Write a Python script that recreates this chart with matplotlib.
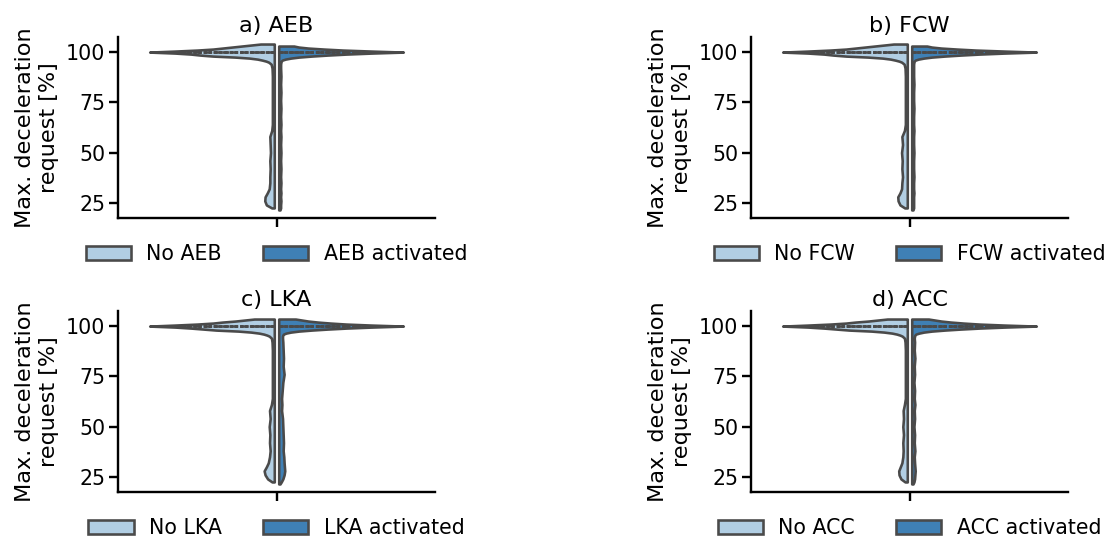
import numpy as np
import matplotlib
matplotlib.use('Agg')
import matplotlib.pyplot as plt
import seaborn as sns
from matplotlib.patches import Patch

systems = ['AEB', 'FCW', 'LKA', 'ACC']
titles = ['a) AEB', 'b) FCW', 'c) LKA', 'd) ACC']

# max. deceleration request [%] at which the violin half widths are read
levels = [104.0, 103.5, 103.0, 102.5, 102.0, 101.5, 101.0, 100.5, 100.0,
          99.5, 99.0, 98.5, 98.0, 97.5, 97.0, 96.5, 96.0, 95.5, 95.0,
          94.0, 92.0, 88.0, 84.0, 80.0, 76.0, 72.0, 68.0, 64.0, 61.0,
          58.0, 54.0, 50.0, 46.0, 42.0, 38.0, 35.0, 32.0, 30.0, 28.0,
          26.0, 24.0, 22.5, 21.5]

# half widths (x units, widest point = 0.4), "no" = left half, "act" = right half
aeb_no = [0.05, 0.08, 0.11, 0.14, 0.17, 0.20, 0.25, 0.32, 0.40,
          0.32, 0.27, 0.24, 0.20, 0.13, 0.085, 0.06, 0.045, 0.033, 0.025,
          0.017, 0.014, 0.013, 0.013, 0.013, 0.013, 0.013, 0.013, 0.013, 0.015,
          0.021, 0.020, 0.019, 0.021, 0.020, 0.021, 0.021, 0.023, 0.029, 0.036,
          0.037, 0.032, 0.015, 0.0]
aeb_act = [0.0, 0.0, 0.055, 0.07, 0.10, 0.15, 0.21, 0.30, 0.40,
           0.30, 0.22, 0.16, 0.11, 0.07, 0.045, 0.028, 0.018, 0.015, 0.014,
           0.013, 0.013, 0.014, 0.013, 0.014, 0.013, 0.014, 0.013, 0.014, 0.013,
           0.014, 0.013, 0.014, 0.013, 0.014, 0.013, 0.014, 0.013, 0.014, 0.013,
           0.014, 0.013, 0.013, 0.011]

fcw_no = [0.05, 0.08, 0.11, 0.14, 0.17, 0.20, 0.25, 0.32, 0.40,
          0.32, 0.27, 0.24, 0.20, 0.13, 0.085, 0.06, 0.045, 0.033, 0.025,
          0.017, 0.014, 0.013, 0.013, 0.013, 0.013, 0.013, 0.013, 0.013, 0.016,
          0.024, 0.022, 0.025, 0.023, 0.024, 0.022, 0.024, 0.025, 0.030, 0.037,
          0.036, 0.030, 0.015, 0.0]
fcw_act = [0.0, 0.0, 0.055, 0.07, 0.10, 0.15, 0.21, 0.30, 0.40,
           0.30, 0.22, 0.16, 0.11, 0.07, 0.045, 0.028, 0.018, 0.015, 0.014,
           0.013, 0.013, 0.013, 0.014, 0.013, 0.013, 0.014, 0.013, 0.013, 0.014,
           0.013, 0.013, 0.014, 0.013, 0.013, 0.014, 0.013, 0.013, 0.014, 0.013,
           0.013, 0.013, 0.013, 0.011]

lka_no = [0.0, 0.07, 0.10, 0.13, 0.17, 0.20, 0.25, 0.32, 0.40,
          0.32, 0.27, 0.23, 0.19, 0.12, 0.08, 0.055, 0.04, 0.03, 0.023,
          0.016, 0.014, 0.013, 0.013, 0.013, 0.013, 0.013, 0.013, 0.013, 0.016,
          0.022, 0.020, 0.023, 0.021, 0.022, 0.020, 0.022, 0.026, 0.032, 0.039,
          0.036, 0.028, 0.014, 0.0]
lka_act = [0.0, 0.06, 0.08, 0.10, 0.13, 0.17, 0.22, 0.30, 0.40,
           0.30, 0.22, 0.16, 0.11, 0.07, 0.045, 0.03, 0.022, 0.02, 0.019,
           0.019, 0.020, 0.021, 0.022, 0.021, 0.024, 0.020, 0.018, 0.016, 0.017,
           0.016, 0.019, 0.020, 0.021, 0.022, 0.021, 0.023, 0.024, 0.025, 0.026,
           0.024, 0.020, 0.015, 0.011]

acc_no = [0.0, 0.07, 0.10, 0.13, 0.17, 0.20, 0.25, 0.32, 0.40,
          0.32, 0.27, 0.23, 0.19, 0.12, 0.08, 0.055, 0.04, 0.03, 0.023,
          0.016, 0.014, 0.013, 0.013, 0.013, 0.013, 0.013, 0.013, 0.013, 0.016,
          0.020, 0.019, 0.021, 0.019, 0.021, 0.020, 0.021, 0.024, 0.029, 0.034,
          0.033, 0.027, 0.014, 0.0]
acc_act = [0.0, 0.06, 0.08, 0.10, 0.13, 0.17, 0.22, 0.30, 0.40,
           0.30, 0.22, 0.16, 0.11, 0.07, 0.045, 0.03, 0.02, 0.017, 0.016,
           0.015, 0.016, 0.015, 0.017, 0.015, 0.016, 0.014, 0.016, 0.015, 0.017,
           0.015, 0.016, 0.014, 0.016, 0.015, 0.017, 0.015, 0.016, 0.017, 0.018,
           0.017, 0.016, 0.014, 0.011]

widths_no = [aeb_no, fcw_no, lka_no, acc_no]
widths_act = [aeb_act, fcw_act, lka_act, acc_act]

# 25th, 50th, 75th percentile of each group
quart_no = [100, 100, 100]
quart_act = [100, 100, 100]

light = '#b1cee3'
dark = '#3f80b5'
edge = '#4a4a4a'
lw = 2.4
gap = 0.007
dashes = [(1.25, .75), (2.5, 1), (1.25, .75)]

sns.set_theme(context='talk', style='ticks', font_scale=1.15,
              rc={'axes.edgecolor': 'black', 'text.color': 'black',
                  'axes.labelcolor': 'black', 'xtick.color': 'black',
                  'ytick.color': 'black', 'axes.linewidth': 2.2,
                  'xtick.major.width': 2.2, 'ytick.major.width': 2.2,
                  'xtick.major.size': 8, 'ytick.major.size': 8})
plt.rcParams['font.family'] = ['DejaVu Sans']


def half_violin(ax, widths, quarts, side, color):
    y = np.array(levels)
    w = np.array(widths)
    keep = w > 0
    y, w = y[keep], w[keep]
    ax.fill_betweenx(y, side * gap, side * w, facecolor=color,
                     edgecolor=edge, linewidth=lw, zorder=2)
    for q, d in zip(quarts, dashes):
        qw = np.interp(q, y[::-1], w[::-1])
        ax.plot([side * gap, side * qw], [q, q], color=edge, lw=lw,
                dashes=d, zorder=3)


fig = plt.figure(figsize=(1104 / 78, 541 / 78), dpi=78)
lefts = [118 / 1104, 751 / 1104, 118 / 1104, 751 / 1104]
bottoms = [1 - 218 / 541, 1 - 218 / 541, 1 - 492 / 541, 1 - 492 / 541]

for i in range(4):
    ax = fig.add_axes([lefts[i], bottoms[i], 317 / 1104, 181 / 541])
    half_violin(ax, widths_no[i], quart_no, -1, light)
    half_violin(ax, widths_act[i], quart_act, 1, dark)
    ax.set_xlim(-0.5, 0.5)
    ax.set_ylim(17.5, 107.5)
    ax.set_xticks([0])
    ax.set_xticklabels([''])
    ax.set_yticks([25, 50, 75, 100])
    ax.set_ylabel('Max. deceleration\nrequest [%]', labelpad=7)
    ax.set_title(titles[i], pad=5)
    sns.despine(ax=ax)

    handles = [Patch(facecolor=light, edgecolor=edge, linewidth=lw),
               Patch(facecolor=dark, edgecolor=edge, linewidth=lw)]
    labels = ['No ' + systems[i], systems[i] + ' activated']
    ax.legend(handles, labels, loc='center', bbox_to_anchor=(0.5, -0.2),
              ncol=2, frameon=False, handlelength=2.2, columnspacing=2.0,
              handletextpad=0.75)

fig.savefig('out.png', dpi=78)
